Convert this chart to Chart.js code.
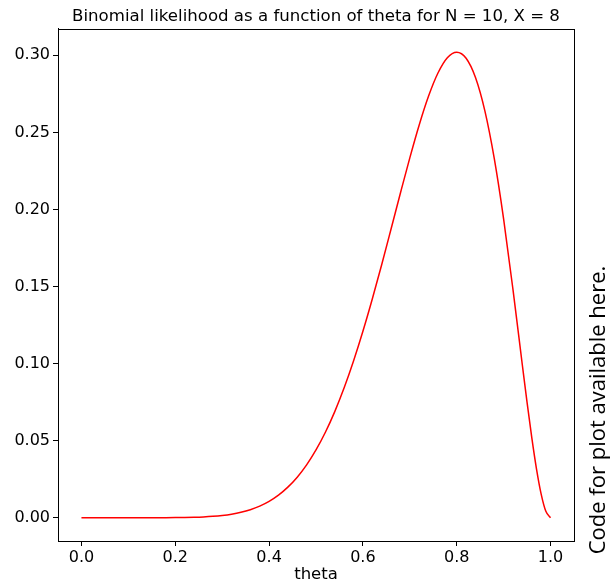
<!DOCTYPE html>
<html>
<head>
<meta charset="utf-8">
<script src="https://cdn.jsdelivr.net/npm/chart.js@4/dist/chart.umd.min.js"></script>
<style>
html,body{margin:0;padding:0;background:#fff;}
#wrap{width:614px;height:585px;}
</style>
</head>
<body>
<div id="wrap"><canvas id="c" width="614" height="585"></canvas></div>
<script>
const titleText = "Binomial likelihood as a function of theta for N = 10, X = 8";
const xLabel = "theta";
const sideNote = "Code for plot available here.";
const theta = [0, 0.02, 0.04, 0.06, 0.08, 0.10, 0.12, 0.14, 0.16, 0.18, 0.20, 0.22, 0.24, 0.26, 0.28, 0.30,
  0.32, 0.34, 0.36, 0.38, 0.40, 0.42, 0.44, 0.46, 0.48, 0.50, 0.52, 0.54, 0.56, 0.58, 0.60,
  0.62, 0.64, 0.66, 0.68, 0.70, 0.72, 0.74, 0.76, 0.78, 0.80, 0.82, 0.84, 0.86, 0.88,
  0.90, 0.92, 0.94, 0.95, 0.96, 0.97, 0.98, 0.99, 1.00];
const likelihood = [0, 0, 0, 0, 0.0000001, 0.00000036, 0.0000015, 0.0000049, 0.0000136, 0.0000333, 0.0000737, 0.0001503, 0.0002861, 0.0005146, 0.0008814, 0.001447,
  0.002288, 0.003501, 0.0052, 0.007521, 0.010617, 0.014657, 0.019825, 0.026307, 0.034288, 0.043945, 0.055427, 0.068845, 0.084261, 0.101656, 0.120932,
  0.141877, 0.164155, 0.187293, 0.210661, 0.233474, 0.254794, 0.273533, 0.288497, 0.298412, 0.30199, 0.298036, 0.285553, 0.26391, 0.233043,
  0.19371, 0.147807, 0.09875, 0.074635, 0.05194, 0.031742, 0.015314, 0.004152, 0];
const xTicks = [0, 0.2, 0.4, 0.6, 0.8, 1.0];
const yTicks = [0, 0.05, 0.10, 0.15, 0.20, 0.25, 0.30];

const FONT = "'DejaVu Sans', sans-serif";

const framePlugin = {
  id: 'frame',
  afterDraw(chart) {
    const {ctx, chartArea: a} = chart;
    ctx.save();
    ctx.strokeStyle = '#000';
    ctx.lineWidth = 1;
    ctx.strokeRect(Math.round(a.left) + 0.5, Math.round(a.top) + 0.5, Math.round(a.right - a.left), Math.round(a.bottom - a.top));
    ctx.translate(599, 410);
    ctx.rotate(-Math.PI / 2);
    ctx.fillStyle = '#000';
    ctx.font = "22px 'Open Sans', 'DejaVu Sans', sans-serif";
    ctx.textAlign = 'center';
    ctx.textBaseline = 'middle';
    ctx.fillText(sideNote, 0, 0);
    ctx.restore();
  }
};

new Chart(document.getElementById('c'), {
  type: 'line',
  data: {
    datasets: [{
      data: theta.map((t, i) => ({x: t, y: likelihood[i]})),
      borderColor: '#ff0000',
      borderWidth: 1.5,
      pointRadius: 0,
      cubicInterpolationMode: 'monotone',
      fill: false
    }]
  },
  options: {
    responsive: false,
    animation: false,
    devicePixelRatio: 1,
    layout: {padding: {left: 0, right: 40, top: 0, bottom: 0}},
    plugins: {
      legend: {display: false},
      tooltip: {enabled: false},
      title: {
        display: true,
        text: titleText,
        fullSize: false,
        color: '#000',
        font: {family: FONT, size: 16.6, weight: 'normal', lineHeight: 1.2},
        padding: {top: 7, bottom: 2}
      }
    },
    scales: {
      x: {
        type: 'linear',
        min: -0.05,
        max: 1.05,
        afterBuildTicks: s => { s.ticks = xTicks.map(v => ({value: v})); },
        afterFit: s => { s.height = 44; },
        ticks: {
          color: '#000',
          font: {family: FONT, size: 16},
          padding: 2,
          maxRotation: 0,
          callback: v => Number(v).toFixed(1)
        },
        grid: {display: true, drawOnChartArea: false, drawTicks: true, tickLength: 5, color: '#000'},
        border: {display: true, color: '#000'},
        title: {
          display: true,
          text: xLabel,
          color: '#000',
          font: {family: FONT, size: 16.5, lineHeight: 1.2},
          padding: {top: 0, bottom: 0}
        }
      },
      y: {
        type: 'linear',
        min: -0.0151,
        max: 0.3171,
        afterBuildTicks: s => { s.ticks = yTicks.map(v => ({value: v})); },
        afterFit: s => { s.width = 58; },
        ticks: {
          color: '#000',
          font: {family: FONT, size: 16},
          padding: 3,
          callback: v => Number(v).toFixed(2)
        },
        grid: {display: true, drawOnChartArea: false, drawTicks: true, tickLength: 5, color: '#000'},
        border: {display: true, color: '#000'}
      }
    }
  },
  plugins: [framePlugin]
});
</script>
</body>
</html>
